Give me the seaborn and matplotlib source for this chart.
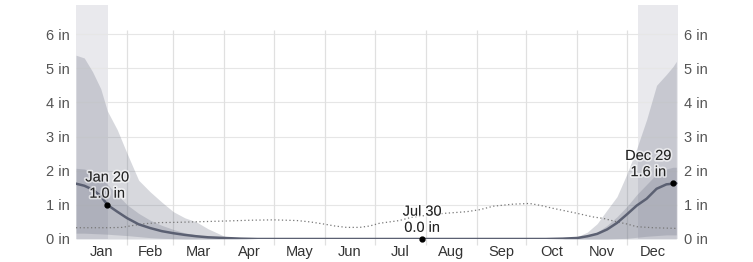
import numpy as np
import pandas as pd
import matplotlib
matplotlib.use("Agg")
import matplotlib.pyplot as plt
import matplotlib.patheffects as pe
import seaborn as sns

# ---- data (inches of snowfall, day of year 0..364) ----
days = [0, 5, 10, 15, 19, 25, 31, 38, 45, 52, 59, 66, 73, 80, 90, 100, 110, 120,
        150, 180, 210, 240, 270, 285, 295, 304, 310, 316, 322, 328, 334, 340, 346,
        352, 358, 362, 364]
mean_snow = [1.62, 1.56, 1.45, 1.26, 1.00, 0.80, 0.61, 0.43, 0.32, 0.23, 0.17, 0.12,
             0.08, 0.05, 0.03, 0.01, 0.0, 0.0, 0.0, 0.0, 0.0, 0.0, 0.0, 0.0, 0.01,
             0.03, 0.08, 0.15, 0.28, 0.47, 0.72, 0.98, 1.18, 1.47, 1.60, 1.62, 1.63]
p90_snow = [5.38, 5.30, 4.90, 4.40, 3.75, 3.20, 2.50, 1.72, 1.38, 1.08, 0.80, 0.62,
            0.50, 0.30, 0.08, 0.02, 0.0, 0.0, 0.0, 0.0, 0.0, 0.0, 0.0, 0.0, 0.01,
            0.07, 0.20, 0.45, 0.85, 1.24, 1.90, 2.65, 3.50, 4.50, 4.82, 5.05, 5.20]
p75_snow = [2.07, 2.05, 1.95, 1.80, 1.60, 1.30, 1.00, 0.75, 0.55, 0.40, 0.28, 0.18,
            0.12, 0.07, 0.03, 0.01, 0.0, 0.0, 0.0, 0.0, 0.0, 0.0, 0.0, 0.0, 0.01,
            0.04, 0.10, 0.20, 0.40, 0.65, 0.95, 1.30, 1.60, 1.90, 2.05, 2.10, 2.10]
p25_snow = [0.17, 0.17, 0.16, 0.15, 0.14, 0.12, 0.10, 0.07, 0.04, 0.02, 0.01, 0.0,
            0.0, 0.0, 0.0, 0.0, 0.0, 0.0, 0.0, 0.0, 0.0, 0.0, 0.0, 0.0, 0.0,
            0.0, 0.0, 0.0, 0.0, 0.01, 0.02, 0.05, 0.08, 0.10, 0.12, 0.12, 0.12]

dot_days = [0, 10, 20, 28, 35, 42, 51, 63, 78, 93, 106, 120, 134, 142, 150, 157,
            164, 172, 178, 184, 196, 203, 212, 223, 237, 245, 253, 265, 275, 282,
            289, 297, 304, 313, 320, 328, 334, 340, 350, 364]
dot_vals = [0.33, 0.33, 0.33, 0.34, 0.40, 0.45, 0.48, 0.49, 0.51, 0.53, 0.55, 0.56,
            0.54, 0.50, 0.44, 0.38, 0.34, 0.34, 0.38, 0.46, 0.54, 0.63, 0.69, 0.75,
            0.80, 0.86, 0.96, 1.02, 1.04, 0.98, 0.90, 0.82, 0.75, 0.65, 0.60, 0.50,
            0.44, 0.36, 0.33, 0.31]

months = ["Jan", "Feb", "Mar", "Apr", "May", "Jun", "Jul", "Aug", "Sep", "Oct", "Nov", "Dec"]
month_starts = [0, 31, 59, 90, 120, 151, 181, 212, 243, 273, 304, 334, 365]
y_ticks = [0, 1, 2, 3, 4, 5, 6]
y_labels = [f"{v} in" for v in y_ticks]

snowy_periods = [(0, 19.4), (341, 365)]
annotations = [(19, 1.0, "Jan 20\n1.0 in", "center"),
               (210, 0.0, "Jul 30\n0.0 in", "center"),
               (362, 1.63, "Dec 29\n1.6 in", "right")]

df = pd.DataFrame({"day": days, "mean": mean_snow})
dfd = pd.DataFrame({"day": dot_days, "val": dot_vals})

# ---- figure ----
sns.set_style("white")
plt.rcParams["font.family"] = ["Liberation Sans", "DejaVu Sans"]
FS = 10.5

fig = plt.figure(figsize=(7.53, 2.62), dpi=100)
ax = fig.add_axes([76 / 753, 23 / 262, 602 / 753, 234 / 262])
ymax = 6.85
ax.set_xlim(0, 365)
ax.set_ylim(0, ymax)

for a, b in snowy_periods:
    ax.axvspan(a, b, color="#e9e9ed", zorder=0, lw=0)

# grid
for v in y_ticks[1:]:
    ax.axhline(v, color="#e6e6e6", lw=0.8, zorder=0.5)
ax.vlines(month_starts[1:-1], -0.18, 6.12, color="#e0e0e0", lw=0.9,
          zorder=0.5, clip_on=False)

band_col = (0.44, 0.46, 0.53)
ax.fill_between(days, 0, p90_snow, color=band_col, alpha=0.28, lw=0, zorder=1)
ax.fill_between(days, p25_snow, p75_snow, color=band_col, alpha=0.28, lw=0, zorder=1.1)

sns.lineplot(data=dfd, x="day", y="val", ax=ax, color="#777777", lw=0.9,
             linestyle=(0, (1, 2)), zorder=2)
sns.lineplot(data=df, x="day", y="mean", ax=ax, color="#5b6072", lw=1.8, zorder=3)

for d, v, txt, ha in annotations:
    ax.plot([d], [v], "o", color="black", ms=3.5, zorder=5, clip_on=False)
    xoff = 0 if ha == "center" else -1
    ax.annotate(txt, (d, v), xytext=(xoff, 3), textcoords="offset points",
                ha=ha, va="bottom", multialignment="center", fontsize=FS,
                color="#222222", linespacing=1.2, zorder=6,
                path_effects=[pe.withStroke(linewidth=2.5, foreground=(1, 1, 1, 0.6))])

for s in ax.spines.values():
    s.set_visible(False)

mids = [(month_starts[i] + month_starts[i + 1]) / 2 for i in range(12)]
ax.set_xticks(mids)
ax.set_xticklabels(months, fontsize=FS, color="#333333")
ax.set_yticks(y_ticks)
ax.set_yticklabels(y_labels, fontsize=FS, color="#555555")
ax.tick_params(axis="x", length=0, pad=4.5)
ax.tick_params(axis="y", length=0, pad=4.5)
ax.set_xlabel("")
ax.set_ylabel("")

ax2 = ax.twinx()
ax2.set_ylim(0, ymax)
ax2.set_yticks(y_ticks)
ax2.set_yticklabels(y_labels, fontsize=FS, color="#555555")
ax2.tick_params(axis="y", length=0, pad=4.5)
for s in ax2.spines.values():
    s.set_visible(False)

fig.savefig("out.png", dpi=100)
